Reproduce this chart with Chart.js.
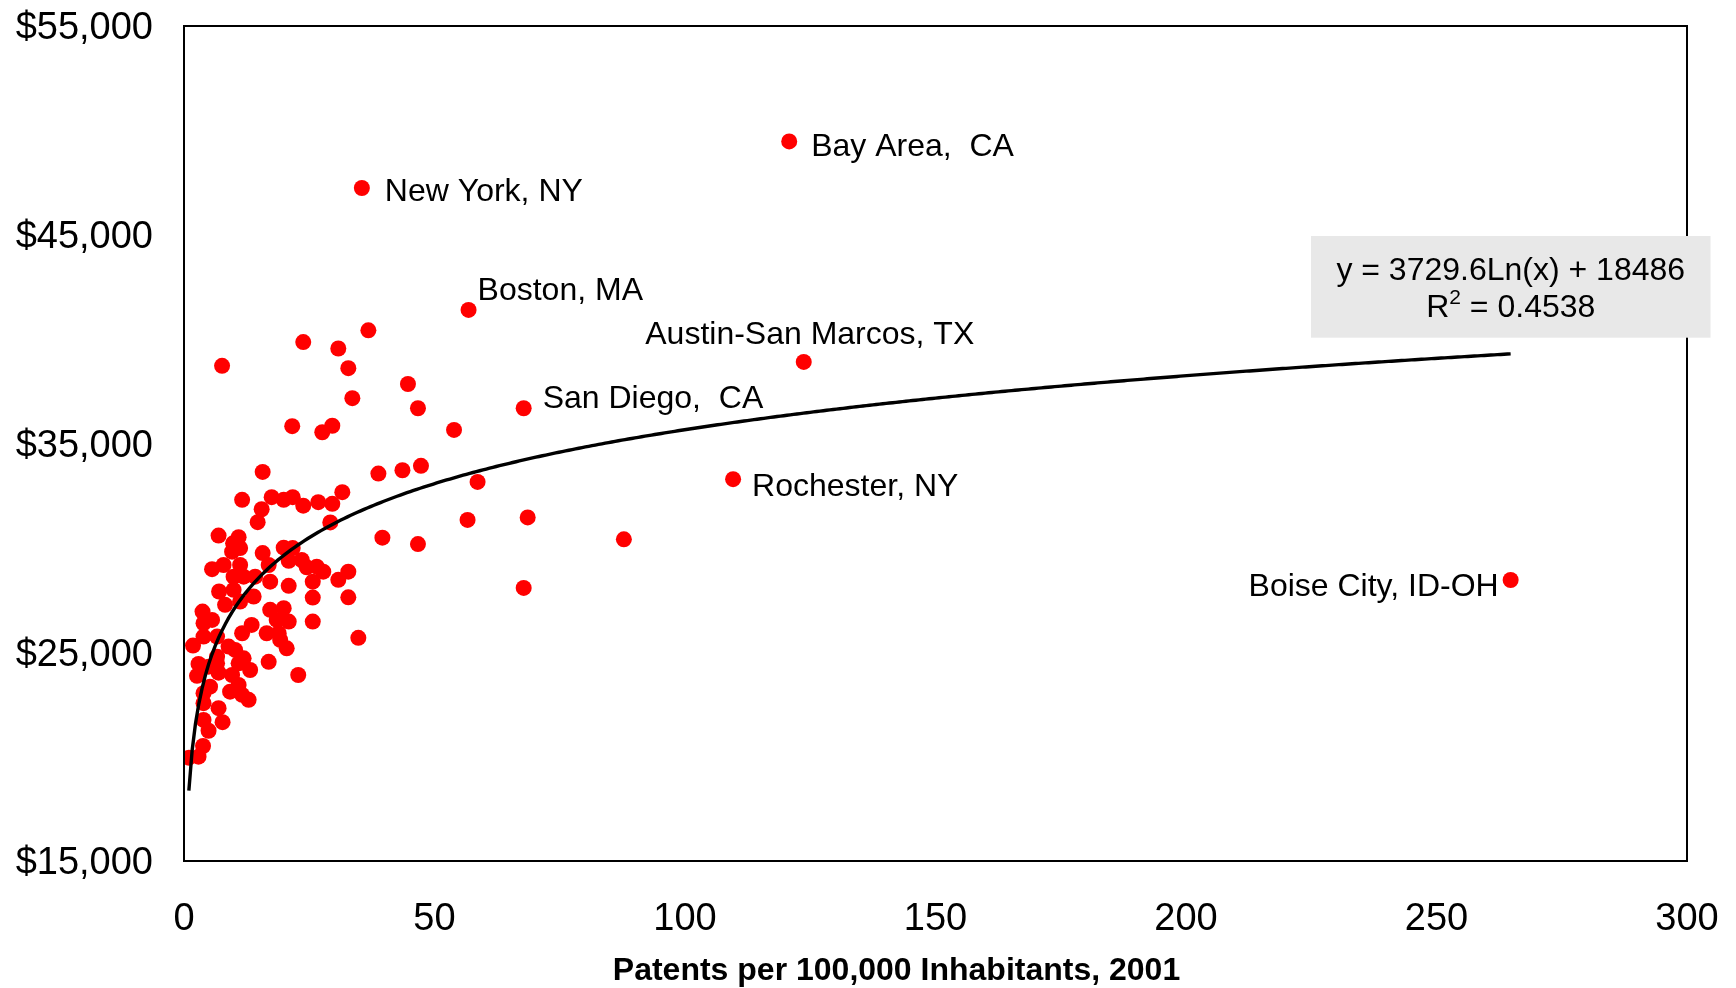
<!DOCTYPE html>
<html><head><meta charset="utf-8">
<script src="https://cdn.jsdelivr.net/npm/chart.js@4.4.1/dist/chart.umd.min.js"></script>
<style>html,body{margin:0;padding:0;background:#fff;}#wrap{width:1736px;height:988px;}</style>
</head><body><div id="wrap"><canvas id="c" width="1736" height="988"></canvas></div>
<script>
// ---- data ----
const patents = [
  35.5,120.8,56.8,123.7,67.8,109.6,264.8,
  87.8,68.6,56.6,67.8,58.6,53.9,46.7,44.7,36.8,30.8,23.8,32.8,33.6,7.6,
  21.6,27.6,29.6,15.7,38.8,43.6,47.3,31.6,26.8,29.6,23.8,21.7,19.9,17.5,11.6,
  15.5,14.7,29.2,39.6,46.7,6.9,10.9,9.8,11.2,9.6,15.7,19.9,21.7,20.9,23.5,
  5.6,7.9,11.2,9.9,11.9,14.2,16.9,24.5,26.5,27.8,32.8,30.8,25.7,17.2,20.9,
  7.0,9.9,8.2,11.2,13.9,25.7,32.8,3.7,5.6,3.9,17.2,19.9,18.5,20.9,11.6,13.5,
  16.5,18.9,25.7,1.8,3.9,6.6,8.9,6.6,10.2,11.9,19.2,20.5,34.8,2.9,4.9,16.9,
  9.6,13.2,22.8,2.6,6.6,10.9,6.9,5.2,3.9,9.2,10.9,11.6,12.9,3.9,6.9,3.9,7.7,
  4.9,3.8,0.97,2.9
];
const income = [
  47240,49470,41400,38910,36690,33290,28460,
  30410,31460,31340,28080,33160,35650,36690,37850,40420,39550,39860,38610,37170,38720,
  35830,35540,35850,33640,33560,33720,33930,32670,32190,32110,32020,32430,32300,32430,32300,
  31850,31230,31220,30490,30180,30590,30510,30220,29990,29820,29750,30010,29990,29380,29420,
  28980,29180,29180,28620,28620,28620,29180,29070,29100,28860,28860,28470,28380,28380,28180,
  27910,27990,27270,27430,27670,27620,27630,26950,26550,26390,27030,27110,26550,26470,25910,26310,
  25910,25910,26470,25320,25750,25750,25270,24790,25110,24710,25590,25190,25690,24440,24310,24540,
  23910,24150,23910,23870,24470,24470,24020,23350,23040,23110,23430,22960,22720,22560,22320,21760,21650,
  21240,20510,19950,20000
];
const cityLabels = ["New York, NY","Bay Area,  CA","Boston, MA","Austin-San Marcos, TX","San Diego,  CA","Rochester, NY","Boise City, ID-OH"];
const xTickValues = [0,50,100,150,200,250,300];
const yTickValues = [15000,25000,35000,45000,55000];
const xTitle = "Patents per 100,000 Inhabitants, 2001";
const TREND_A = 3729.6, TREND_B = 18486, TREND_R2 = "0.4538";

// ---- label placement (pixels relative to the point) ----
const labelPlacement = [
  {align:"left", dx:23, dy:4},
  {align:"left", dx:22, dy:6},
  {align:"left", dx:9, dy:-19},
  {align:"center", dx:6, dy:-27},
  {align:"left", dx:19, dy:-9},
  {align:"left", dx:19, dy:8},
  {align:"right", dx:-12, dy:7}
];

const FONT = "Arial, 'Liberation Sans', Helvetica, sans-serif";
const points = patents.map((x,i)=>({x:x, y:income[i]}));
const xmin = Math.min(...patents), xmax = Math.max(...patents);
const trend = [];
const N = 400;
for (let i=0;i<=N;i++){ const x = xmin + (xmax-xmin)*i/N; trend.push({x:x, y:TREND_A*Math.log(x)+TREND_B}); }

const decor = {
  id:"decor",
  afterDatasetsDraw(chart){
    const ctx = chart.ctx, meta = chart.getDatasetMeta(1);
    ctx.save();
    ctx.fillStyle = "#000";
    ctx.font = "32px " + FONT;
    ctx.textBaseline = "middle";
    cityLabels.forEach((t,i)=>{
      const p = meta.data[i], pl = labelPlacement[i];
      ctx.textAlign = pl.align;
      ctx.fillText(t, p.x + pl.dx, p.y + pl.dy);
    });
    ctx.restore();
  },
  afterDraw(chart){
    const ctx = chart.ctx, a = chart.chartArea;
    ctx.save();
    ctx.strokeStyle = "#000"; ctx.lineWidth = 2;
    ctx.strokeRect(a.left, a.top, a.right - a.left, a.bottom - a.top);
    // axis title (offset left of centre, as in the reference)
    ctx.fillStyle = "#000";
    ctx.font = "bold 32px " + FONT;
    ctx.textAlign = "center";
    ctx.textBaseline = "middle";
    ctx.fillText(xTitle, (a.left + a.right)/2 - 39, a.bottom + 110);
    // equation box
    const bx = a.right - 376, by = a.top + 210, bw = 399.5, bh = 101.7;
    ctx.fillStyle = "#e8e8e8";
    ctx.fillRect(bx, by, bw, bh);
    ctx.fillStyle = "#000";
    ctx.font = "32px " + FONT;
    ctx.textBaseline = "middle";
    ctx.textAlign = "center";
    const cx = bx + bw/2;
    ctx.fillText("y = " + TREND_A + "Ln(x) + " + TREND_B, cx, by + 35);
    const s1 = "R", s2 = "2", s3 = " = " + TREND_R2;
    const w1 = ctx.measureText(s1).width, w3 = ctx.measureText(s3).width;
    ctx.font = "21px " + FONT;
    const w2 = ctx.measureText(s2).width;
    const total = w1 + w2 + w3;
    let x0 = cx - total/2, y0 = by + 72.5;
    ctx.textAlign = "left";
    ctx.font = "32px " + FONT;
    ctx.fillText(s1, x0, y0);
    ctx.font = "21px " + FONT;
    ctx.fillText(s2, x0 + w1, y0 - 10);
    ctx.font = "32px " + FONT;
    ctx.fillText(s3, x0 + w1 + w2, y0);
    ctx.restore();
  }
};

new Chart(document.getElementById("c"), {
  data:{ datasets:[
    { type:"line", data:trend, borderColor:"#000", borderWidth:3.4, pointRadius:0, tension:0, fill:false, order:0 },
    { type:"scatter", data:points, backgroundColor:"#ff0000", borderWidth:0, pointRadius:8, pointHoverRadius:8, order:1 }
  ]},
  options:{
    responsive:false, animation:false, devicePixelRatio:1,
    layout:{ padding:{ top:26, right:49, left:0, bottom:0 } },
    plugins:{ legend:{display:false}, tooltip:{enabled:false} },
    events:[],
    scales:{
      x:{ type:"linear", min:0, max:300,
        afterBuildTicks(s){ s.ticks = xTickValues.map(v=>({value:v})); },
        afterFit(s){ s.height = 127; s.paddingLeft = 0; s.paddingRight = 0; },
        grid:{ display:false, drawTicks:false }, border:{ display:false },
        ticks:{ color:"#000", font:{ size:38, family:FONT }, padding:36, maxRotation:0 },
        title:{ display:false }
      },
      y:{ type:"linear", min:15000, max:55000,
        afterBuildTicks(s){ s.ticks = yTickValues.map(v=>({value:v})); },
        afterFit(s){ s.width = 184; s.paddingTop = 0; s.paddingBottom = 0; },
        grid:{ display:false, drawTicks:false }, border:{ display:false },
        ticks:{ color:"#000", font:{ size:38, family:FONT }, padding:31, labelOffset:3,
          callback:v=>"$" + v.toLocaleString("en-US") }
      }
    }
  },
  plugins:[decor]
});
</script></body></html>
